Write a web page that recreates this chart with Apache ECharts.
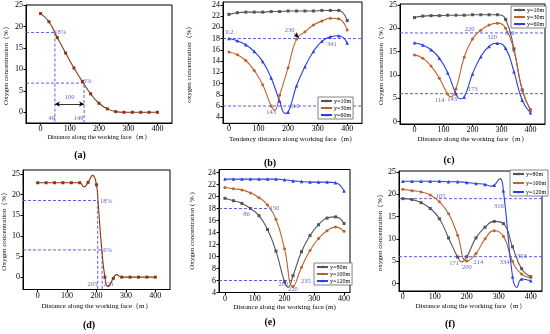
<!DOCTYPE html>
<html><head><meta charset="utf-8">
<script src="https://cdn.jsdelivr.net/npm/echarts@6/dist/echarts.min.js"></script>
<style>html,body{margin:0;padding:0;background:#fff}#c{width:550px;height:334px}</style>
</head><body><div id="c"></div>
<script>
// ---------- shared ----------
const xPos = [0, 28.6, 57.1, 85.7, 114.3, 142.9, 171.4, 200, 228.6, 257.1, 285.7, 314.3, 342.9, 371.4, 400];
const xTicks = [0, 100, 200, 300, 400];
const yTicks25 = [0, 5, 10, 15, 20, 25];
const yTicks24 = [4, 6, 8, 10, 12, 14, 16, 18, 20, 22, 24];

// ---------- (a) ----------
const aO2 = [23.0, 21.1, 17.4, 13.8, 10.3, 7.2, 4.3, 2.1, 0.8, 0.15, 0, 0, 0, 0, 0];
const aRefs = [[[-50, 18.6], [49, 18.6], [49, -2.5]], [[-50, 6.8], [149, 6.8], [149, -2.5]]];
const aNotes = [['18%', 67, 18.7], ['6%', 160, 7.3], ['100', 99, 3.4], ['49', 38, -1.4], ['149', 130, -1.4]];

// ---------- (b) ----------
const bNames = ['y=10m', 'y=30m', 'y=60m'];
const b10 = [22.3, 22.6, 22.7, 22.7, 22.7, 22.8, 22.8, 22.9, 22.9, 22.9, 22.9, 23.0, 23.0, 23.0, 21.2];
const b30 = [15.6, 15.1, 14.1, 12.3, 9.8, 6.0, 7.9, 12.8, 17.9, 19.2, 20.4, 21.1, 21.6, 21.5, 19.5];
const b30Extra = [[155, 5.3]];
const b60 = [18.0, 17.6, 16.9, 15.7, 13.9, 11.0, 6.9, 4.9, 9.6, 13.0, 15.7, 17.5, 18.3, 18.5, 17.2];
const b60Extra = [[190, 4.7]];
const bRefs = [[[-20, 18], [450, 18]], [[-20, 6], [450, 6]]];
const bNotes = [['0.2', 2, 19.2], ['230', 205, 19.5], ['341', 348, 17.0], ['143', 143, 4.8], ['210', 222, 6.0]];

// ---------- (c) ----------
const c10 = [22.3, 22.6, 22.7, 22.7, 22.8, 22.8, 22.8, 22.9, 22.9, 22.9, 22.9, 21.9, 15.6, 6.8, 2.5];
const c30 = [14.3, 13.6, 11.9, 9.3, 5.9, 7.0, 13.8, 17.7, 19.6, 20.7, 21.1, 20.0, 15.2, 6.8, 2.5];
const c30Extra = [[125, 5.3]];
const c60 = [16.9, 16.4, 15.4, 13.6, 10.5, 6.0, 5.3, 10.2, 13.9, 16.1, 16.8, 15.7, 10.7, 4.6, 1.9];
const c60Extra = [[157, 4.9]];
const cRefs = [[[-50, 19], [450, 19]], [[-50, 6], [450, 6]]];
const cNotes = [['220', 190, 19.7], ['320', 268, 18.1], ['330', 328, 18.9], ['114', 87, 4.6], ['143', 130, 4.7], ['173', 201, 6.9]];

// ---------- (d) ----------
const dO2 = [22.9, 22.9, 22.9, 22.9, 22.9, 22.9, 23.0, 22.4, 0, -0.3, 0, 0, 0, 0, 0];
const dExtra = [[158, 21.9], [187, 24.7], [206, 17.5], [217, 7.5], [239, -2.3], [268, 0.6]];
const dRefs = [[[-50, 18.6], [204, 18.6], [204, -3]], [[-50, 6.6], [219, 6.6], [219, -3]]];
const dNotes = [['18%', 232, 18.3], ['6%', 238, 6.4], ['205', 186, -1.8], ['223', 240, -1.8]];

// ---------- (e) ----------
const eNames = ['y=80m', 'y=100m', 'y=120m'];
const e80 = [19.7, 19.3, 18.85, 18.0, 16.8, 14.5, 10.9, 5.8, 6.8, 10.8, 13.5, 15.3, 16.4, 16.6, 15.5];
const e80Extra = [[212, 4.9]];
const e100 = [21.5, 21.3, 21.1, 20.6, 19.8, 18.6, 16.2, 11.3, 5.0, 8.2, 11.0, 13.0, 14.3, 14.9, 14.2];
const e120 = [22.9, 22.9, 22.9, 22.9, 22.9, 22.9, 22.9, 22.8, 22.6, 22.5, 22.4, 22.4, 22.4, 22.3, 20.9];
const eRefs = [[[-20, 18], [150, 18]], [[-20, 6], [235, 6]]];
const eNotes = [['86', 72, 17.0], ['150', 166, 18.1], ['200', 196, 5.3], ['220', 228, 4.5], ['235', 272, 5.9]];

// ---------- (f) ----------
const f80 = [19.0, 18.8, 18.1, 16.8, 14.5, 10.2, 5.9, 6.0, 10.2, 12.6, 13.9, 13.4, 8.2, 3.3, 1.5];
const f80Extra = [[184, 4.8]];
const f100 = [21.1, 20.8, 20.5, 19.8, 18.3, 15.6, 10.8, 5.0, 6.7, 10.0, 11.8, 10.6, 4.9, 2.1, 1.3];
const f120 = [22.9, 22.9, 22.9, 22.9, 22.9, 22.8, 22.8, 22.6, 22.4, 22.2, 22.0, 20.8, 1.5, 1.0, 0.6];
const f120Extra = [[276, 21.8], [304, 23.5], [356, -0.9]];
const fRefs = [[[-12, 19], [435, 19]], [[-12, 6], [435, 6]]];
const fNotes = [['105', 118, 19.6], ['316', 300, 17.2], ['171', 160, 4.5], ['200', 200, 3.6], ['214', 236, 4.7], ['334', 318, 4.8], ['353', 372, 6.0]];

// ---------- styling ----------
const FF = 'Liberation Serif';
const BROWN = '#8a3612', GRAY = '#555555', ORANGE = '#c0622b', BLUE = '#2b3fe0', REF = '#4b4be6', NOTE = '#3a3ab8';

const panels = [
  {left: 26, top: 5, width: 146, height: 118, xMin: -50, xMax: 450, yMin: -2.5, yMax: 25, yTicks: yTicks25,
   xName: 'Distance along the working face（m）', xSize: 6.5, xGap: 10.5, yName: 'Oxygen concentration（%）', yGap: 16.5, letter: '(a)', lx: 80, ly: 155},
  {left: 223, top: 2, width: 139, height: 121.3, xMin: -20, xMax: 450, yMin: 2.93, yMax: 24.5, yTicks: yTicks24,
   xName: 'Tendency distance along working face（m）', xSize: 7, xGap: 12.5, yName: 'oxygen concentration（%）', yGap: 30, letter: '(b)', lx: 270, ly: 163},
  {left: 400, top: 4, width: 145, height: 120, xMin: -50, xMax: 450, yMin: -0.5, yMax: 25.2, yTicks: yTicks25,
   xName: 'Distance along the working face（m）', xSize: 7, xGap: 11.5, yName: 'Oxygen concentration（%）', yGap: 12.5, letter: '(c)', lx: 449, ly: 160},
  {left: 23, top: 170, width: 147, height: 119.5, xMin: -50, xMax: 450, yMin: -3, yMax: 26, yTicks: yTicks25,
   xName: 'Distance along the working face（m）', xSize: 7, xGap: 13, yName: 'Oxygen concentration（%）', yGap: 14, letter: '(d)', lx: 89, ly: 325},
  {left: 219, top: 169.5, width: 131, height: 123, xMin: -20, xMax: 420, yMin: 4, yMax: 24.5, yTicks: yTicks24,
   xName: 'Distance along the working face (m)', xSize: 7, xGap: 11, yName: 'Oxygen concentration ( % )', yGap: 23, letter: '(e)', lx: 270, ly: 322},
  {left: 399, top: 171, width: 143, height: 120, xMin: -12, xMax: 435, yMin: -1.7, yMax: 25.2, yTicks: yTicks25,
   xName: 'Distance along the working face（m）', xSize: 7, xGap: 12, yName: 'oxygen concentration（%）', yGap: 11, letter: '(f)', lx: 450, ly: 324}
];

const grid = [], xAxis = [], yAxis = [], series = [], graphic = [];
panels.forEach((p, i) => {
  grid.push({left: p.left, top: p.top, width: p.width, height: p.height, show: true, borderColor: '#000', borderWidth: 1, backgroundColor: 'rgba(0,0,0,0)'});
  xAxis.push({type: 'value', gridIndex: i, min: p.xMin, max: p.xMax,
    axisLine: {onZero: false, lineStyle: {color: '#000', width: 1}},
    axisTick: {customValues: xTicks, length: 2.5, lineStyle: {color: '#000'}},
    axisLabel: {customValues: xTicks, margin: 2, fontSize: 8, fontFamily: FF, color: '#000'},
    splitLine: {show: false},
    name: p.xName, nameLocation: 'middle', nameGap: p.xGap,
    nameTextStyle: {fontSize: p.xSize, fontFamily: FF, color: '#000'}});
  yAxis.push({type: 'value', gridIndex: i, min: p.yMin, max: p.yMax,
    axisLine: {onZero: false, lineStyle: {color: '#000', width: 1}},
    axisTick: {customValues: p.yTicks, length: 2.5, lineStyle: {color: '#000'}},
    axisLabel: {customValues: p.yTicks, margin: 3, fontSize: 8, fontFamily: FF, color: '#000'},
    splitLine: {show: false},
    name: p.yName, nameLocation: 'middle', nameGap: p.yGap,
    nameTextStyle: {fontSize: 7, fontFamily: FF, color: '#000'}});
  graphic.push({type: 'text', x: p.lx, y: p.ly, style: {text: p.letter, fontSize: 10, fontWeight: 'bold', fontFamily: FF, fill: '#000', align: 'center', verticalAlign: 'middle'}});
});

function pts(xs, ys, extra) {
  const arr = xs.map((x, k) => ({value: [x, ys[k]]}));
  (extra || []).forEach(e => arr.push({value: e, symbol: 'none'}));
  arr.sort((a, b) => a.value[0] - b.value[0]);
  return arr;
}
function curve(i, name, ys, extra, color, symbol, size) {
  series.push({type: 'line', name: name, xAxisIndex: i, yAxisIndex: i, data: pts(xPos, ys, extra),
    smooth: 0.5, symbol: symbol, symbolSize: size, showAllSymbol: true,
    lineStyle: {color: color, width: 1.1}, itemStyle: {color: color}, z: 4, silent: true});
}
function refs(i, lines) {
  lines.forEach(l => series.push({type: 'line', xAxisIndex: i, yAxisIndex: i, data: l, symbol: 'none',
    lineStyle: {color: REF, width: 0.9, type: [3, 2]}, z: 2, silent: true}));
}
function notes(i, list) {
  series.push({type: 'scatter', xAxisIndex: i, yAxisIndex: i, symbolSize: 1, itemStyle: {color: 'rgba(0,0,0,0)'}, silent: true, z: 6,
    data: list.map(n => ({name: n[0], value: [n[1], n[2]]})),
    label: {show: true, position: 'inside', formatter: '{b}', fontSize: 6.5, fontFamily: FF, color: NOTE}});
}
function arrow(i, from, to, both) {
  series.push({type: 'line', xAxisIndex: i, yAxisIndex: i, data: [], silent: true,
    markLine: {silent: true, symbol: [both ? 'arrow' : 'none', 'arrow'], symbolSize: [4, 5], animation: false,
      lineStyle: {color: '#000', type: 'solid', width: 0.8}, label: {show: false},
      data: [[{coord: from}, {coord: to}]]}});
}

// (a)
refs(0, aRefs);
curve(0, 'a', aO2, null, BROWN, 'rect', 3);
arrow(0, [49, 1.9], [149, 1.9], true);
notes(0, aNotes);
// (b)
refs(1, bRefs);
curve(1, bNames[0], b10, null, GRAY, 'rect', 3);
curve(1, bNames[1], b30, b30Extra, ORANGE, 'circle', 3);
curve(1, bNames[2], b60, b60Extra, BLUE, 'triangle', 3.5);
arrow(1, [221, 18.9], [236, 18.2], false);
notes(1, bNotes);
// (c)
refs(2, cRefs);
curve(2, bNames[0], c10, null, GRAY, 'rect', 3);
curve(2, bNames[1], c30, c30Extra, ORANGE, 'circle', 3);
curve(2, bNames[2], c60, c60Extra, BLUE, 'triangle', 3.5);
notes(2, cNotes);
// (d)
refs(3, dRefs);
curve(3, 'd', dO2, dExtra, BROWN, 'rect', 3);
notes(3, dNotes);
// (e)
refs(4, eRefs);
curve(4, eNames[0], e80, e80Extra, GRAY, 'rect', 3);
curve(4, eNames[1], e100, null, ORANGE, 'circle', 3);
curve(4, eNames[2], e120, null, BLUE, 'triangle', 3.5);
notes(4, eNotes);
// (f)
refs(5, fRefs);
curve(5, eNames[0], f80, f80Extra, GRAY, 'rect', 3);
curve(5, eNames[1], f100, null, ORANGE, 'circle', 3);
curve(5, eNames[2], f120, f120Extra, BLUE, 'triangle', 3.5);
notes(5, fNotes);

function legend(names, left, top, gap) {
  return {data: names, left: left, top: top, orient: 'vertical', itemWidth: 11, itemHeight: 3, itemGap: gap,
    padding: [1, 2], borderColor: '#666', borderWidth: 0.8, backgroundColor: '#fff', selectedMode: false,
    textStyle: {fontSize: 6, fontFamily: FF, color: '#000', padding: [0, 0, 0, -3]}};
}

const chart = echarts.init(document.getElementById('c'), null, {renderer: 'canvas'});
chart.setOption({
  animation: false,
  backgroundColor: '#fff',
  grid: grid, xAxis: xAxis, yAxis: yAxis, series: series, graphic: graphic,
  legend: [legend(bNames, 318, 97, 1), legend(bNames, 511, 6, 1), legend(eNames, 314, 263, 1), legend(eNames, 510, 170, 3)]
});
</script></body></html>
